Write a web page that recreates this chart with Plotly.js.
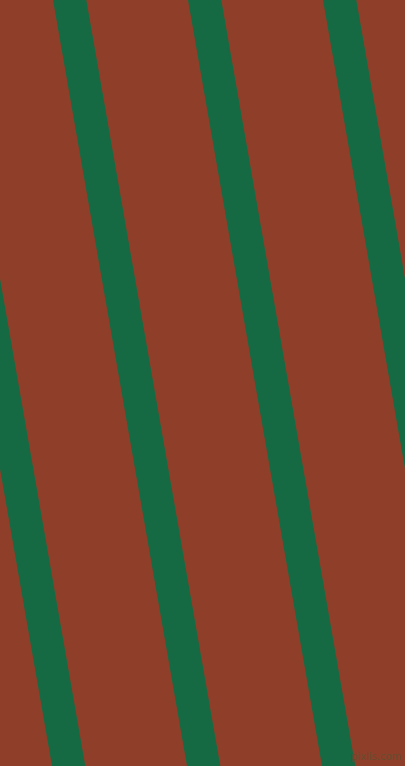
<!DOCTYPE html>
<html>
<head>
<meta charset="utf-8">
<script src="https://cdn.plot.ly/plotly-3.0.1.min.js"></script>
<style>
  html, body { margin: 0; padding: 0; background: #8f3f29; }
  #graph { width: 405px; height: 766px; }
</style>
</head>
<body>
<div id="graph"></div>
<script>
// stripe left edges along the top row, and where they have drifted by the bottom row
const stripeTop = [-82, 53, 188, 323];
const stripeDrift = 134;
const stripeWidth = 33.3;

const traces = stripeTop.map((x0) => ({
    x: [x0, x0 + stripeWidth, x0 + stripeWidth + stripeDrift, x0 + stripeDrift, x0],
    y: [0, 0, 766, 766, 0],
    type: 'scatter',
    mode: 'lines',
    fill: 'toself',
    fillcolor: '#166a43',
    line: { width: 0, color: '#166a43' },
    hoverinfo: 'skip'
}));

const layout = {
    width: 405,
    height: 766,
    margin: { l: 0, r: 0, b: 0, t: 0 },
    showlegend: false,
    paper_bgcolor: '#8f3f29',
    plot_bgcolor: '#8f3f29',
    xaxis: { range: [0, 405], visible: false, fixedrange: true },
    yaxis: { range: [766, 0], visible: false, fixedrange: true },
    annotations: [{
        text: 'pixlis.com',
        xref: 'paper', yref: 'paper',
        x: 0.995, y: 0.003,
        xanchor: 'right', yanchor: 'bottom',
        showarrow: false,
        font: { family: 'DejaVu Sans', size: 10, color: 'rgba(90,80,50,0.75)' }
    }]
};

Plotly.newPlot('graph', traces, layout, { displayModeBar: false, staticPlot: true });
</script>
</body>
</html>
